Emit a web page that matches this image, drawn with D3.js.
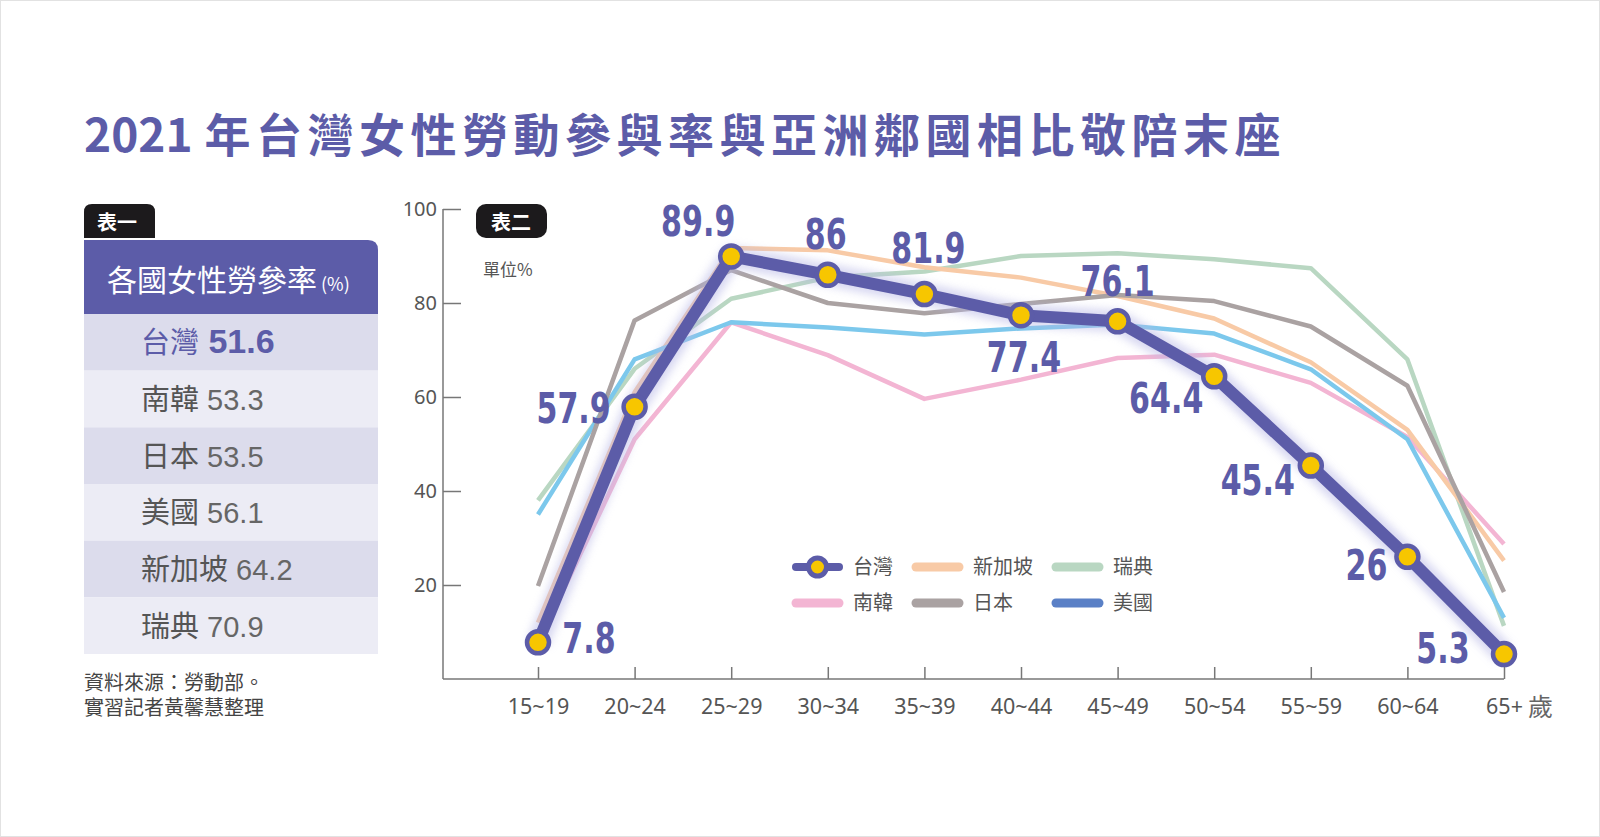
<!DOCTYPE html>
<html>
<head>
<meta charset="utf-8">
<script src="https://cdn.jsdelivr.net/npm/d3@7"></script>
<style>
  body { margin: 0; background: #fff; }
  svg { display: block; }
  text { font-family: 'Noto Sans CJK TC', 'Noto Sans', sans-serif; }
  .num { font-family: 'DejaVu Sans', sans-serif; font-weight: 700; }
  .tick text { font-family: 'Noto Sans', 'Noto Sans CJK TC', sans-serif; fill: #555; font-size: 21.5px; }
  .tick line, .domain { stroke: #777; stroke-width: 1.5; }
</style>
</head>
<body>
<svg width="1600" height="837"></svg>
<script>
// age groups on the x axis
const ages = ['15~19', '20~24', '25~29', '30~34', '35~39', '40~44', '45~49', '50~54', '55~59', '60~64', '65+'];
const yTicks = [20, 40, 60, 80, 100];

// labour participation rate by age (%)
const taiwan = [7.8, 57.9, 89.9, 86, 81.9, 77.4, 76.1, 64.4, 45.4, 26, 5.3];
const korea = [7.5, 51, 75.9, 68.9, 59.6, 63.7, 68.3, 69, 63, 51.5, 28.7];
const japan = [19.8, 76.3, 87, 80, 77.8, 79.8, 81.7, 80.4, 75, 62.4, 18.5];
const singapore = [12, 61, 91.7, 91.2, 87.6, 85.4, 81.5, 76.7, 67.4, 53, 25.2];
const sweden = [38, 66, 80.9, 85.4, 86.7, 90, 90.6, 89.3, 87.4, 68, 11.3];
const usa = [35, 68, 75.9, 74.8, 73.3, 74.6, 75.4, 73.5, 65.9, 51, 13];

// table one: overall rate
const tableCountries = ['台灣', '南韓', '日本', '美國', '新加坡', '瑞典'];
const tableValues = [51.6, 53.3, 53.5, 56.1, 64.2, 70.9];

// label nudges for the Taiwan values, [dx, dy] from each point
const labelNudge = [[51, 11], [-61, 16], [-33, -20], [-2, -26], [4, -31], [3, 57],
                    [0, -25], [-48, 37], [-53, 29], [-41, 23], [-61, 9]];

const purple = '#5c5ca8';
const svg = d3.select('svg');

svg.append('rect')
  .attr('x', 0.5).attr('y', 0.5)
  .attr('width', 1599).attr('height', 836)
  .attr('fill', '#fff').attr('stroke', '#e2e2e2');

svg.append('text')
  .attr('x', 84).attr('y', 152)
  .attr('font-size', 46).attr('font-weight', 700)
  .attr('fill', purple)
  .call(t => {
    t.append('tspan').text('2021');
    t.append('tspan').text('年台灣女性勞動參與率與亞洲鄰國相比敬陪末座')
      .attr('dx', 12).attr('letter-spacing', 5.5);
  });

// ---------- table one ----------
const table = svg.append('g');
table.append('path')
  .attr('d', 'M84,238 V212 Q84,204 92,204 H147 Q155,204 155,212 V238 Z')
  .attr('fill', '#1c1a1c');
table.append('text').text('表一')
  .attr('x', 97).attr('y', 230)
  .attr('font-size', 20).attr('font-weight', 700).attr('fill', '#fff');

table.append('path')
  .attr('d', 'M84,314 V240 H368 Q378,240 378,250 V314 Z')
  .attr('fill', purple);
table.append('text')
  .attr('x', 107).attr('y', 291)
  .attr('fill', '#fff')
  .call(t => {
    t.append('tspan').text('各國女性勞參率').attr('font-size', 30);
    t.append('tspan').text(' (%)').attr('font-size', 18);
  });

const rowY = d3.scaleBand()
  .domain(tableCountries)
  .range([314, 654]);

const rows = table.selectAll('.row')
  .data(tableCountries)
  .join('g')
    .attr('class', 'row')
    .attr('transform', d => `translate(0, ${rowY(d)})`);

rows.append('rect')
  .attr('x', 84).attr('width', 294)
  .attr('height', rowY.bandwidth())
  .attr('fill', (d, i) => i % 2 === 0 ? '#dcdcec' : '#ececf5');

rows.append('text')
  .attr('x', 141).attr('y', rowY.bandwidth() / 2 + 11)
  .attr('font-size', 29)
  .attr('fill', (d, i) => i === 0 ? purple : '#555')
  .each(function(d, i) {
    const t = d3.select(this);
    t.append('tspan').text(d);
    t.append('tspan')
      .text(' ' + tableValues[i])
      .attr('font-family', "'Liberation Sans', 'Noto Sans', sans-serif")
      .attr('font-weight', i === 0 ? 700 : 400)
      .attr('font-size', i === 0 ? 34 : 29)
      .attr('fill', i === 0 ? purple : '#666');
  });

table.append('text')
  .attr('font-size', 20).attr('fill', '#444')
  .call(t => {
    t.append('tspan').text('資料來源：勞動部。').attr('x', 84).attr('y', 690);
    t.append('tspan').text('實習記者黃馨慧整理').attr('x', 84).attr('y', 715);
  });

// ---------- chart two ----------
const x = d3.scalePoint().domain(ages).range([538, 1504]);
const y = d3.scaleLinear().domain([0, 100]).range([679, 209]);
const axisX0 = 443;

svg.append('g')
  .attr('transform', `translate(${axisX0}, 0)`)
  .call(d3.axisLeft(y).tickValues(yTicks).tickSize(-18).tickSizeOuter(0).tickPadding(6))
  .call(g => g.select('.domain').attr('d', `M0,${y(100)}V${y(0)}`))
  .call(g => g.selectAll('.tick text').style('font-size', '20px'));

svg.append('g')
  .attr('transform', `translate(0, ${y(0)})`)
  .call(d3.axisBottom(x).tickSize(-12).tickSizeOuter(0).tickPadding(20))
  .call(g => g.select('.domain').attr('d', `M${axisX0},0H${x(ages[ages.length - 1])}`));

svg.append('text').text('歲')
  .attr('x', 1528).attr('y', 716)
  .attr('font-size', 25).attr('fill', '#666');

svg.append('rect')
  .attr('x', 476).attr('y', 204).attr('width', 71).attr('height', 34)
  .attr('rx', 10).attr('fill', '#1c1a1c');
svg.append('text').text('表二')
  .attr('x', 491).attr('y', 230)
  .attr('font-size', 20).attr('font-weight', 700).attr('fill', '#fff');
svg.append('text').text('單位%')
  .attr('x', 483).attr('y', 276)
  .attr('font-size', 17).attr('fill', '#555');

const others = [
  {name: '南韓', values: korea, color: '#f3b5d3'},
  {name: '瑞典', values: sweden, color: '#b9d7c2'},
  {name: '新加坡', values: singapore, color: '#f8caa6'},
  {name: '美國', values: usa, color: '#7cc8ec'},
  {name: '日本', values: japan, color: '#aaa2a2'}
];

const line = d3.line()
  .x((d, i) => x(ages[i]))
  .y(d => y(d));

svg.append('g').selectAll('path')
  .data(others)
  .join('path')
    .attr('d', d => line(d.values))
    .attr('fill', 'none')
    .attr('stroke', d => d.color)
    .attr('stroke-width', 4.5)
    .attr('stroke-linejoin', 'round');

const defs = svg.append('defs');
defs.append('filter').attr('id', 'glow')
  .attr('x', '-10%').attr('y', '-10%').attr('width', '120%').attr('height', '120%')
  .append('feGaussianBlur').attr('stdDeviation', 4);

const tw = svg.append('g');
tw.append('path')
  .attr('d', line(taiwan))
  .attr('fill', 'none')
  .attr('stroke', '#b8b8e6')
  .attr('stroke-width', 22)
  .attr('stroke-linejoin', 'round')
  .attr('opacity', 0.55)
  .attr('filter', 'url(#glow)');
tw.append('path')
  .attr('d', line(taiwan))
  .attr('fill', 'none')
  .attr('stroke', purple)
  .attr('stroke-width', 12)
  .attr('stroke-linejoin', 'round');

tw.selectAll('circle')
  .data(taiwan)
  .join('circle')
    .attr('cx', (d, i) => x(ages[i]))
    .attr('cy', d => y(d))
    .attr('r', 11)
    .attr('fill', '#f7c600')
    .attr('stroke', purple)
    .attr('stroke-width', 4.5);

// condensed value labels: squeeze horizontally around their own centre
tw.selectAll('.val')
  .data(taiwan)
  .join('text')
    .attr('class', 'num val')
    .text(d => d)
    .attr('text-anchor', 'middle')
    .attr('transform', (d, i) =>
      `translate(${x(ages[i]) + labelNudge[i][0]}, ${y(d) + labelNudge[i][1]}) scale(0.7, 1)`)
    .attr('font-size', 43)
    .attr('fill', purple);

// ---------- legend ----------
const legendItems = [
  {name: '台灣', color: purple, marker: true},
  {name: '新加坡', color: '#f8caa6'},
  {name: '瑞典', color: '#b9d7c2'},
  {name: '南韓', color: '#f3b5d3'},
  {name: '日本', color: '#aaa2a2'},
  {name: '美國', color: '#5a80c6'}
];
const legendCols = [796, 916, 1056];
const legendRows = [567, 603];

const legend = svg.append('g').selectAll('g')
  .data(legendItems)
  .join('g')
    .attr('transform', (d, i) => `translate(${legendCols[i % 3]}, ${legendRows[Math.floor(i / 3)]})`);

legend.append('line')
  .attr('x1', 0).attr('x2', 43)
  .attr('stroke', d => d.color)
  .attr('stroke-width', d => d.marker ? 8 : 9)
  .attr('stroke-linecap', 'round');

legend.filter(d => d.marker).append('circle')
  .attr('cx', 21.5).attr('r', 9)
  .attr('fill', '#f7c600').attr('stroke', purple).attr('stroke-width', 5);

legend.append('text')
  .text(d => d.name)
  .attr('x', 57).attr('y', 7)
  .attr('font-size', 20)
  .attr('fill', '#555');
</script>
</body>
</html>
